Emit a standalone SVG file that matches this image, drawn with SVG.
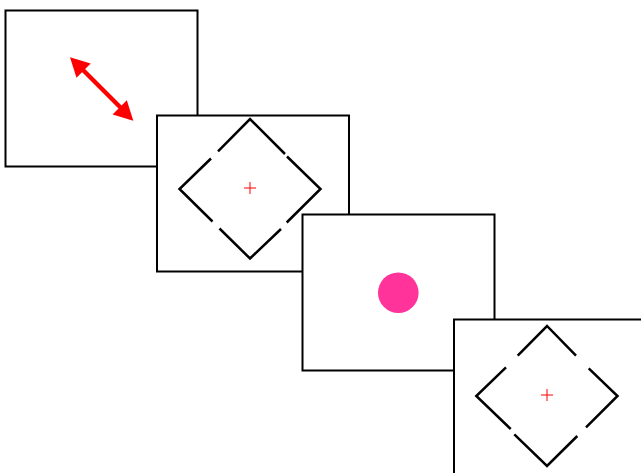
<svg xmlns="http://www.w3.org/2000/svg" width="641" height="473" viewBox="0 0 641 473">
<style>
.frame{fill:#fff;stroke:#000;stroke-width:2}
.dia{stroke:#000;stroke-width:2.5;fill:none;stroke-linecap:butt}
.cross{stroke:#f00;stroke-width:1;fill:none}
</style>
<rect width="641" height="473" fill="#fff"/>
<g id="frame1">
<rect class="frame" x="5.5" y="10.5" width="192" height="156"/>
<g id="arrow">
<line x1="82" y1="69" x2="121" y2="108" stroke="#f00" stroke-width="4.5"/>
<polygon points="70,57.3 90.7,63.5 76.5,77.8" fill="#f00"/>
<polygon points="133.3,120.7 112.6,114.5 126.8,100.2" fill="#f00"/>
</g>
</g>
<g id="frame2">
<rect class="frame" x="157" y="115.5" width="192" height="156"/>
<path class="dia" d="M218,151.3 L250,119 L285,154 M287,156.5 L320.5,189 L286.7,222.5 M281,229 L250,258.5 L219.5,228.5 M212.5,221.5 L179.5,189 L211,158.5"/>
<path class="cross" d="M244,188H256M250,182V194"/>
</g>
<g id="frame3">
<rect class="frame" x="302.5" y="214.5" width="192" height="156"/>
<circle cx="398.3" cy="292.7" r="20.3" fill="#ff3399"/>
</g>
<g id="frame4">
<rect class="frame" x="454" y="319.5" width="200" height="170"/>
<path class="dia" d="M517.7,355.7 L547,326 L576,355.7 M588.7,368.3 L617.5,396 L586,427.3 M577.3,436 L547,466 L514.3,434.3 M510.7,429 L476.3,396 L506,367.3"/>
<path class="cross" d="M541,395H553M547,389V401"/>
</g>
</svg>
